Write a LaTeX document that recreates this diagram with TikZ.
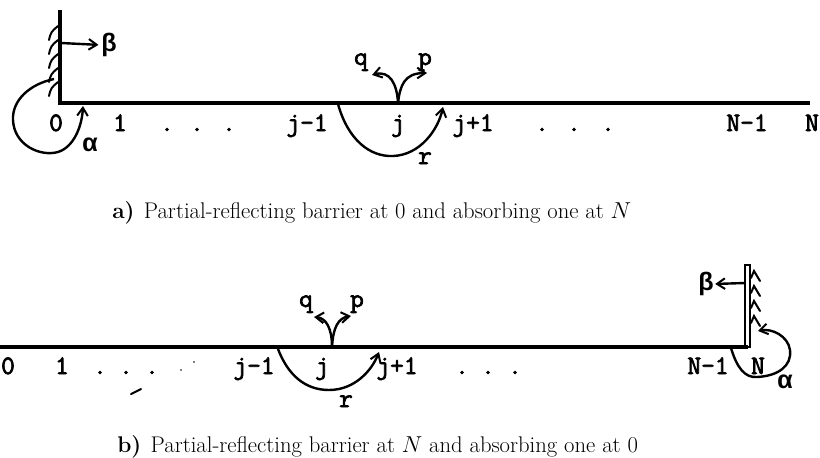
\documentclass[tikz,border=0pt]{standalone}
\usepackage{fontspec}
\newfontfamily\typefont{Latin Modern Mono}[FakeBold=2.5]
\newfontfamily\greekfont{Liberation Mono}
\usetikzlibrary{arrows.meta}
\begin{document}
\begin{tikzpicture}[x=0.75pt,y=-0.75pt,
  lbl/.style={font=\fontsize{20}{20}\selectfont\typefont, inner sep=0pt, anchor=base},
  glbl/.style={font=\fontsize{19}{19}\selectfont\greekfont\bfseries, inner sep=0pt, anchor=center},
  mainline/.style={line width=2.4pt},
  curve/.style={line width=1.8pt},
  arr/.style={curve,-{Straight Barb[length=6pt,width=8pt,line width=1.5pt]}},
  hatch/.style={line width=1.5pt, line cap=round},
  capt/.style={font=\fontsize{17}{19}\selectfont, inner sep=0pt, anchor=west}
]
\path[use as bounding box] (0,0) rectangle (820,457);

% ---------------- (a) ----------------
\coordinate (tL) at (60,103);
\coordinate (tR) at (810,103);
\coordinate (tT) at (60,10);
\draw[mainline] (tT) -- (tL) -- (tR);
\foreach \y in {26,40,54,68,82}
  \draw[hatch] (49,\y+14) .. controls (51,\y+6) .. (58,\y);

\node[glbl] (tbeta) at (109,45) {β};
\coordinate (tbS) at (61,43);
\draw[arr, shorten >=2pt] (tbS) -- (tbeta.west);

\node[lbl] (t0) at (56,131) {0};
\node[lbl] (t1) at (120,131) {1};
\node[lbl] (td1) at (167,131) {.};
\node[lbl] (td2) at (197,131) {.};
\node[lbl] (td3) at (229,131) {.};
\node[lbl] (tjm) at (307,131) {j-1};
\node[lbl] (tj) at (398,131) {j};
\node[lbl] (tjp) at (473,131) {j+1};
\node[lbl] (td4) at (542,131) {.};
\node[lbl] (td5) at (574,131) {.};
\node[lbl] (td6) at (608,131) {.};
\node[lbl] (tNm) at (747,131) {N-1};
\node[lbl] (tN) at (812,131) {N};

\coordinate (tV) at (398,103);
\coordinate (tqa) at (372,75);
\coordinate (tpa) at (427,73);
\draw[arr] (tV) .. controls (397,84) and (390,70) .. (tqa);
\draw[arr] (tV) .. controls (400,86) and (404,73) .. (tpa);
\node[lbl] (tq) at (361,65) {q};
\node[lbl] (tp) at (425,65) {p};

\coordinate (trS) at (338,104);
\coordinate (trE) at (443,107);
\draw[arr] (trS) .. controls (348,140) and (370,157) .. (393,156) .. controls (420,155) and (438,130) .. (trE);
\node[lbl] (tr) at (425,164) {r};

\coordinate (tlS) at (54,79);
\coordinate (tlE) at (83,106);
\draw[arr] (tlS) .. controls (30,84) and (12,100) .. (13,120) .. controls (14,145) and (40,157) .. (58,152) .. controls (74,147) and (82,126) .. (tlE);
\node[glbl] (talpha) at (90,145) {α};

\node[capt] (capa) at (112,213) {\textbf{a)}\hspace{7pt}Partial-reflecting barrier at 0 and absorbing one at $N$};

% ---------------- (b) ----------------
\coordinate (bL) at (0,347);
\coordinate (bR) at (748,347);
\draw[mainline] (bL) -- (bR);
\draw[line width=1.5pt] (745,265) rectangle (750,347);
\foreach \y in {277,292,307,322}
  \draw[hatch] (751,\y+1) -- (754,\y-6) -- (760,\y+4);

\node[glbl] (bbeta) at (706,284) {β};
\coordinate (bbS) at (745,283);
\draw[arr, shorten >=1pt] (bbS) -- (bbeta.east);

\node[lbl] (b0) at (8,374) {0};
\node[lbl] (b1) at (62,374) {1};
\node[lbl] (bd1) at (100,374) {.};
\node[lbl] (bd2) at (126,374) {.};
\node[lbl] (bd3) at (152,374) {.};
\node[lbl] (bjm) at (254,374) {j-1};
\node[lbl] (bj) at (322,374) {j};
\node[lbl] (bjp) at (397,374) {j+1};
\node[lbl] (bd4) at (462,374) {.};
\node[lbl] (bd5) at (488,374) {.};
\node[lbl] (bd6) at (515,374) {.};
\node[lbl] (bNm) at (708,374) {N-1};
\node[lbl] (bN) at (758,374) {N};

\coordinate (bV) at (332,347);
\coordinate (bqa) at (314,317);
\coordinate (bpa) at (351,316);
\draw[arr] (bV) .. controls (332,328) and (326,318) .. (bqa);
\draw[arr] (bV) .. controls (333,328) and (338,318) .. (bpa);
\node[lbl] (bq) at (306,307) {q};
\node[lbl] (bp) at (357,307) {p};

\coordinate (brS) at (278,349);
\coordinate (brE) at (379,352);
\draw[arr] (brS) .. controls (288,375) and (305,390) .. (329,390) .. controls (355,390) and (372,370) .. (brE);
\node[lbl] (br) at (346,407) {r};

\coordinate (blS) at (731,348);
\coordinate (blE) at (758,331);
\draw[arr] (blS) .. controls (737,368) and (745,378) .. (757,377) .. controls (778,376) and (792,366) .. (790,350) .. controls (788,336) and (772,328) .. (blE);
\node[glbl] (balpha) at (785,382) {α};

\draw[line width=1.5pt, line cap=round] (131,394) -- (141,389);
\fill (181,370) circle (0.9);
\fill (194,362) circle (0.9);

\node[capt] (capb) at (117,447) {\textbf{b)}\hspace{7pt}Partial-reflecting barrier at $N$ and absorbing one at 0};
\end{tikzpicture}
\end{document}
